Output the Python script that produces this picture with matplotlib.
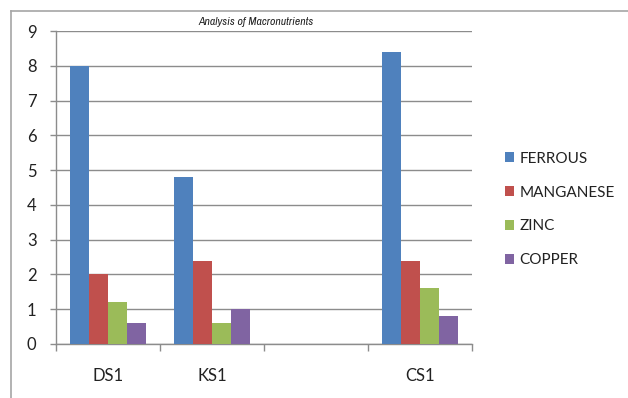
import numpy as np
import matplotlib
matplotlib.use("Agg")
import matplotlib.pyplot as plt
from matplotlib.lines import Line2D
from matplotlib import font_manager

categories = ["DS1", "KS1", "", "CS1"]
series_names = ["FERROUS", "MANGANESE", "ZINC", "COPPER"]
ferrous = [8.0, 4.8, np.nan, 8.4]
manganese = [2.0, 2.4, np.nan, 2.4]
zinc = [1.2, 0.6, np.nan, 1.6]
copper = [0.6, 1.0, np.nan, 0.8]
y_ticks = [0, 1, 2, 3, 4, 5, 6, 7, 8, 9]
title = "Analysis of Macronutrients"

colors = ["#4F81BD", "#C0504D", "#9BBB59", "#8064A2"]
values = [ferrous, manganese, zinc, copper]

plt.rcParams["font.family"] = ["Lato", "DejaVu Sans"]

names = sorted({f.name for f in font_manager.fontManager.ttflist})
narrow = [n for n in names if "Narrow" in n or "Condensed" in n]
title_family = narrow[0] if narrow else "Lato"

W, H = 628, 398
fig = plt.figure(figsize=(W / 100, H / 100), dpi=100)
ax = fig.add_axes([56 / W, 1 - 344 / H, (472 - 56) / W, (344 - 31) / H])

x = np.arange(len(categories))
bw = 0.183
bars = []
for i, (vals, c) in enumerate(zip(values, colors)):
    b = ax.bar(x + (i - 1.5) * bw, vals, width=bw, color=c, edgecolor="none", zorder=3)
    bars.append(b)

ax.set_xlim(-0.5, len(categories) - 0.5)
ax.set_ylim(0, 9)
ax.set_yticks(y_ticks)
ax.set_yticklabels([str(t) for t in y_ticks])
ax.set_xticks(x)
ax.set_xticklabels(categories)
ax.set_xticks(np.arange(len(categories) + 1) - 0.5, minor=True)

gray = "#8c8c8c"
ax.yaxis.grid(True, color=gray, linewidth=1.0, zorder=0)
ax.set_axisbelow(True)
for s in ["top", "right"]:
    ax.spines[s].set_visible(False)
for s in ["left", "bottom"]:
    ax.spines[s].set_color(gray)
    ax.spines[s].set_linewidth(1.0)

ax.tick_params(axis="y", which="major", direction="out", length=4, width=1,
               color=gray, pad=10, labelsize=12, labelcolor="#222222")
ax.tick_params(axis="x", which="major", length=0, pad=17, labelsize=12,
               labelcolor="#222222")
ax.tick_params(axis="x", which="minor", direction="out", length=5, width=1,
               color=gray)

fig.text(256 / W, 1 - 22 / H, title, ha="center", va="center",
         fontsize=8.5 if narrow else 7.5, style="italic",
         family=[title_family, "DejaVu Sans"], color="#222222")

leg = fig.legend([b[0] for b in bars], series_names, loc="center left",
                 bbox_to_anchor=(497 / W, 1 - 209.5 / H), frameon=False,
                 handlelength=0.6, handleheight=0.6, handletextpad=0.35,
                 labelspacing=1.3, fontsize=11, borderpad=0)
for t in leg.get_texts():
    t.set_color("#222222")

# outer chart frame (top and left edges visible)
fig.add_artist(Line2D([11 / W, 1], [1 - 11 / H, 1 - 11 / H], color="#a6a6a6",
                      linewidth=1.2, transform=fig.transFigure))
fig.add_artist(Line2D([11 / W, 11 / W], [0, 1 - 11 / H], color="#a6a6a6",
                      linewidth=1.2, transform=fig.transFigure))

fig.savefig("out.png", dpi=100)
